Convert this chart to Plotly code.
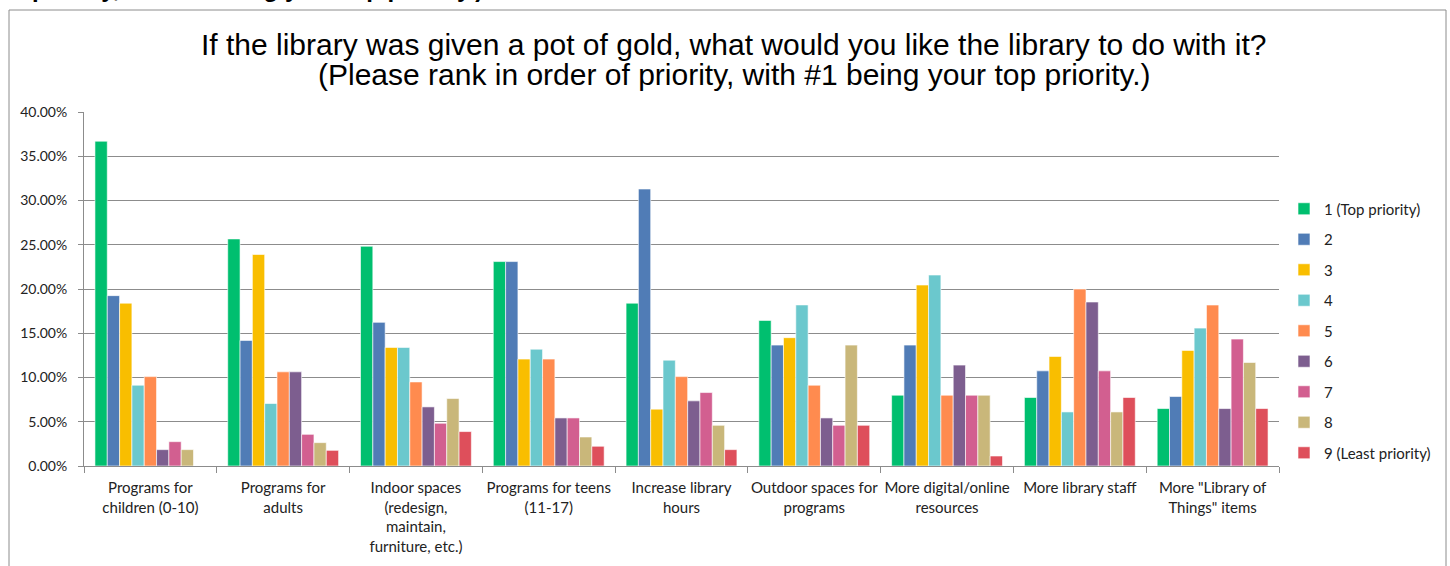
import plotly.graph_objects as go

categories = [
    "Programs for<br>children (0-10)",
    "Programs for<br>adults",
    "Indoor spaces<br>(redesign,<br>maintain,<br>furniture, etc.)",
    "Programs for teens<br>(11-17)",
    "Increase library<br>hours",
    "Outdoor spaces for<br>programs",
    "More digital/online<br>resources",
    "More library staff",
    "More \"Library of<br>Things\" items",
]

series_names = ["1 (Top priority)", "2", "3", "4", "5", "6", "7", "8", "9 (Least priority)"]

rank1 = [0.367, 0.2566, 0.2483, 0.2310, 0.1840, 0.1645, 0.0800, 0.0774, 0.0649]
rank2 = [0.1925, 0.1419, 0.1623, 0.2310, 0.3130, 0.1366, 0.1366, 0.1075, 0.0785]
rank3 = [0.1840, 0.2390, 0.1340, 0.1208, 0.0642, 0.1450, 0.2045, 0.1238, 0.1306]
rank4 = [0.0913, 0.0706, 0.1340, 0.1320, 0.1196, 0.1820, 0.2158, 0.0611, 0.1558]
rank5 = [0.1010, 0.1064, 0.0950, 0.1208, 0.1010, 0.0913, 0.0800, 0.2000, 0.1819]
rank6 = [0.0185, 0.1064, 0.0668, 0.0543, 0.0736, 0.0543, 0.1140, 0.1853, 0.0649]
rank7 = [0.0275, 0.0358, 0.0483, 0.0543, 0.0830, 0.0460, 0.0800, 0.1075, 0.1434]
rank8 = [0.0185, 0.0264, 0.0762, 0.0328, 0.0460, 0.1366, 0.0800, 0.0611, 0.1170]
rank9 = [0.0, 0.0177, 0.0389, 0.0223, 0.0185, 0.0460, 0.0113, 0.0774, 0.0649]

colors = ["#00BF6F", "#507CB6", "#F9BE00", "#6BC8CD", "#FF8B4F",
          "#7D5E8F", "#D25F90", "#C9B77A", "#DE4F5B"]

y_ticks = [0.0, 0.05, 0.10, 0.15, 0.20, 0.25, 0.30, 0.35, 0.40]

title_line1 = "If the library was given a pot of gold, what would you like the library to do with it?"
title_line2 = "(Please rank in order of priority, with #1 being your top priority.)"
cropped_heading = "priority, with #1 being your top priority.)"

all_series = [rank1, rank2, rank3, rank4, rank5, rank6, rank7, rank8, rank9]

fig = go.Figure()
for name, vals, col in zip(series_names, all_series, colors):
    fig.add_trace(go.Bar(
        x=categories, y=vals, name=name, legendgroup=name,
        marker=dict(color=col, line=dict(color="white", width=0.6)),
    ))

# layout geometry (pixels)
W, H = 1450, 566
L, R, T, B = 84, 1279, 112, 466

def px(x):
    return (x - L) / (R - L)

def py(y):
    return (B - y) / (B - T)

fam = "Lato, Open Sans, sans-serif"
xtick_font = dict(family=fam, size=15, color="#222222")
ytick_font = dict(family=fam, size=14, color="#222222")
legend_font = dict(family=fam, size=15, color="#222222")

fig.update_layout(
    width=W, height=H,
    margin=dict(l=L, r=W - R, t=T, b=H - B, pad=0),
    paper_bgcolor="white", plot_bgcolor="white",
    barmode="group", bargap=0.165, bargroupgap=0,
    showlegend=True,
    legend=dict(
        x=px(1284), y=py(331), xanchor="left", yanchor="middle",
        font=legend_font, tracegroupgap=8, bgcolor="rgba(0,0,0,0)",
        itemwidth=30,
    ),
    font=xtick_font,
)

fig.update_xaxes(
    type="category", showgrid=False, showline=True, linecolor="#8c8c8c", linewidth=1,
    ticks="outside", tickson="boundaries", ticklen=6, tickcolor="#8c8c8c",
    tickfont=xtick_font, tickangle=0, ticklabelstandoff=8,
)
fig.update_yaxes(
    range=[0, 0.40], tickvals=y_ticks, tickformat=".2%",
    showgrid=True, gridcolor="#8c8c8c", gridwidth=1,
    showline=True, linecolor="#8c8c8c", linewidth=1,
    ticks="outside", ticklen=5, tickcolor="#8c8c8c",
    tickfont=ytick_font, zeroline=False, ticklabelstandoff=8,
)

# outer chart border
fig.add_shape(type="rect", xref="paper", yref="paper",
              x0=px(9), x1=px(1446), y0=py(575), y1=py(10),
              line=dict(color="#8c8c8c", width=1), fillcolor="rgba(0,0,0,0)", layer="below")

title_font = dict(family="Liberation Sans, Arial, sans-serif", size=30, color="#000000")
fig.add_annotation(
    xref="paper", yref="paper", x=px(734), y=py(44), xanchor="center", yanchor="middle",
    text=title_line1, showarrow=False, font=title_font,
)
fig.add_annotation(
    xref="paper", yref="paper", x=px(734), y=py(75), xanchor="center", yanchor="middle",
    text=title_line2, showarrow=False, font=title_font,
)

# cropped heading text at very top of the image
fig.add_annotation(
    xref="paper", yref="paper", x=px(30), y=py(4), xanchor="left", yanchor="bottom",
    text="<b>" + cropped_heading + "</b>",
    showarrow=False, align="left",
    font=dict(family="Liberation Sans, Arial, sans-serif", size=24, color="#000000"),
)

fig.write_html(
    "out.html",
    config={"displayModeBar": False},
    post_script="document.body.style.margin='0';document.body.style.padding='0';",
)
